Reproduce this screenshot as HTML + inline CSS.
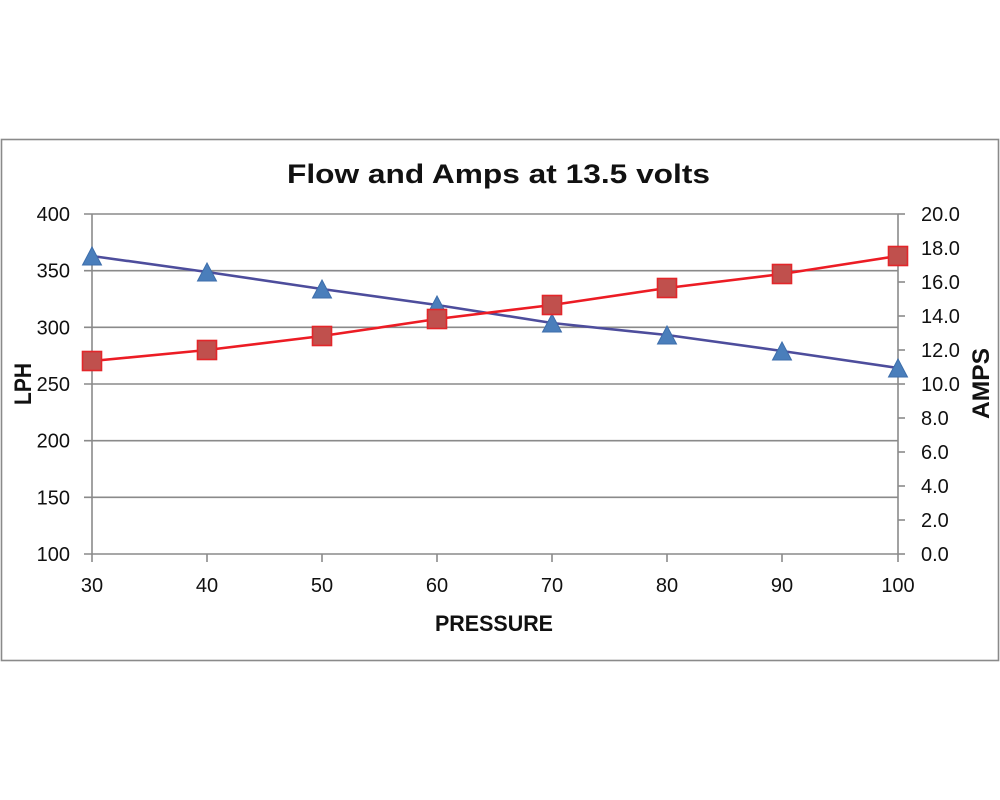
<!DOCTYPE html>
<html><head><meta charset="utf-8"><style>
html,body{margin:0;padding:0;background:#fff;}
svg{display:block;}
text{font-family:"Liberation Sans",Arial,sans-serif;fill:#111;}
</style></head><body>
<svg width="1000" height="800" viewBox="0 0 1000 800" xmlns="http://www.w3.org/2000/svg">
<rect x="0" y="0" width="1000" height="800" fill="#fff"/>
<rect x="1.5" y="139.5" width="997" height="521" fill="#fff" stroke="#8a8a8a" stroke-width="1.6"/>
<text x="498.5" y="183" font-size="27" font-weight="bold" text-anchor="middle" textLength="423" lengthAdjust="spacingAndGlyphs">Flow and Amps at 13.5 volts</text>
<g stroke="#8a8a8a" stroke-width="1.6" fill="none">
<line x1="84" y1="214" x2="898" y2="214"/>
<line x1="84" y1="270.7" x2="898" y2="270.7"/>
<line x1="84" y1="327.3" x2="898" y2="327.3"/>
<line x1="84" y1="384" x2="898" y2="384"/>
<line x1="84" y1="440.7" x2="898" y2="440.7"/>
<line x1="84" y1="497.3" x2="898" y2="497.3"/>
<line x1="84" y1="554" x2="898" y2="554"/>
<line x1="92" y1="214" x2="92" y2="562"/>
<line x1="898" y1="214" x2="898" y2="562"/>
<line x1="207" y1="554" x2="207" y2="562"/>
<line x1="322" y1="554" x2="322" y2="562"/>
<line x1="437" y1="554" x2="437" y2="562"/>
<line x1="552" y1="554" x2="552" y2="562"/>
<line x1="667" y1="554" x2="667" y2="562"/>
<line x1="782" y1="554" x2="782" y2="562"/>
<line x1="898" y1="214" x2="905" y2="214"/>
<line x1="898" y1="248" x2="905" y2="248"/>
<line x1="898" y1="282" x2="905" y2="282"/>
<line x1="898" y1="316" x2="905" y2="316"/>
<line x1="898" y1="350" x2="905" y2="350"/>
<line x1="898" y1="384" x2="905" y2="384"/>
<line x1="898" y1="418" x2="905" y2="418"/>
<line x1="898" y1="452" x2="905" y2="452"/>
<line x1="898" y1="486" x2="905" y2="486"/>
<line x1="898" y1="520" x2="905" y2="520"/>
<line x1="898" y1="554" x2="905" y2="554"/>
</g>
<g font-size="20" text-anchor="end">
<text x="70" y="221">400</text>
<text x="70" y="277.7">350</text>
<text x="70" y="334.3">300</text>
<text x="70" y="391">250</text>
<text x="70" y="447.7">200</text>
<text x="70" y="504.3">150</text>
<text x="70" y="561">100</text>
</g>
<g font-size="20" text-anchor="start">
<text x="921" y="221">20.0</text>
<text x="921" y="255">18.0</text>
<text x="921" y="289">16.0</text>
<text x="921" y="323">14.0</text>
<text x="921" y="357">12.0</text>
<text x="921" y="391">10.0</text>
<text x="921" y="425">8.0</text>
<text x="921" y="459">6.0</text>
<text x="921" y="493">4.0</text>
<text x="921" y="527">2.0</text>
<text x="921" y="561">0.0</text>
</g>
<g font-size="20" text-anchor="middle">
<text x="92" y="592">30</text>
<text x="207" y="592">40</text>
<text x="322" y="592">50</text>
<text x="437" y="592">60</text>
<text x="552" y="592">70</text>
<text x="667" y="592">80</text>
<text x="782" y="592">90</text>
<text x="898" y="592">100</text>
</g>
<text x="494" y="631" font-size="22" font-weight="bold" text-anchor="middle" textLength="118" lengthAdjust="spacingAndGlyphs">PRESSURE</text>
<text transform="translate(31,384) rotate(-90)" x="0" y="0" font-size="24" font-weight="bold" text-anchor="middle" textLength="42" lengthAdjust="spacingAndGlyphs">LPH</text>
<text transform="translate(989,383.5) rotate(-90)" x="0" y="0" font-size="24" font-weight="bold" text-anchor="middle" textLength="71" lengthAdjust="spacingAndGlyphs">AMPS</text>
<!-- blue series -->
<polyline points="92,256 207,272 322,289 437,305 552,323 667,335 782,351 898,368" fill="none" stroke="#4d4d9c" stroke-width="2.6"/>
<g fill="#4a7ebb" stroke="#3d6eab" stroke-width="1">
<polygon points="92,247 82.5,265 101.5,265"/>
<polygon points="207,263 197.5,281 216.5,281"/>
<polygon points="322,280 312.5,298 331.5,298"/>
<polygon points="437,296 427.5,314 446.5,314"/>
<polygon points="552,314 542.5,332 561.5,332"/>
<polygon points="667,326 657.5,344 676.5,344"/>
<polygon points="782,342 772.5,360 791.5,360"/>
<polygon points="898,359 888.5,377 907.5,377"/>
</g>
<!-- red series -->
<polyline points="92,361 207,350 322,336 437,319 552,305 667,288 782,274 898,256" fill="none" stroke="#ec1c24" stroke-width="2.6"/>
<g fill="#c0504d" stroke="#e3262a" stroke-width="1.6">
<rect x="82.5" y="351.5" width="19" height="19"/>
<rect x="197.5" y="340.5" width="19" height="19"/>
<rect x="312.5" y="326.5" width="19" height="19"/>
<rect x="427.5" y="309.5" width="19" height="19"/>
<rect x="542.5" y="295.5" width="19" height="19"/>
<rect x="657.5" y="278.5" width="19" height="19"/>
<rect x="772.5" y="264.5" width="19" height="19"/>
<rect x="888.5" y="246.5" width="19" height="19"/>
</g>
</svg>
</body></html>
